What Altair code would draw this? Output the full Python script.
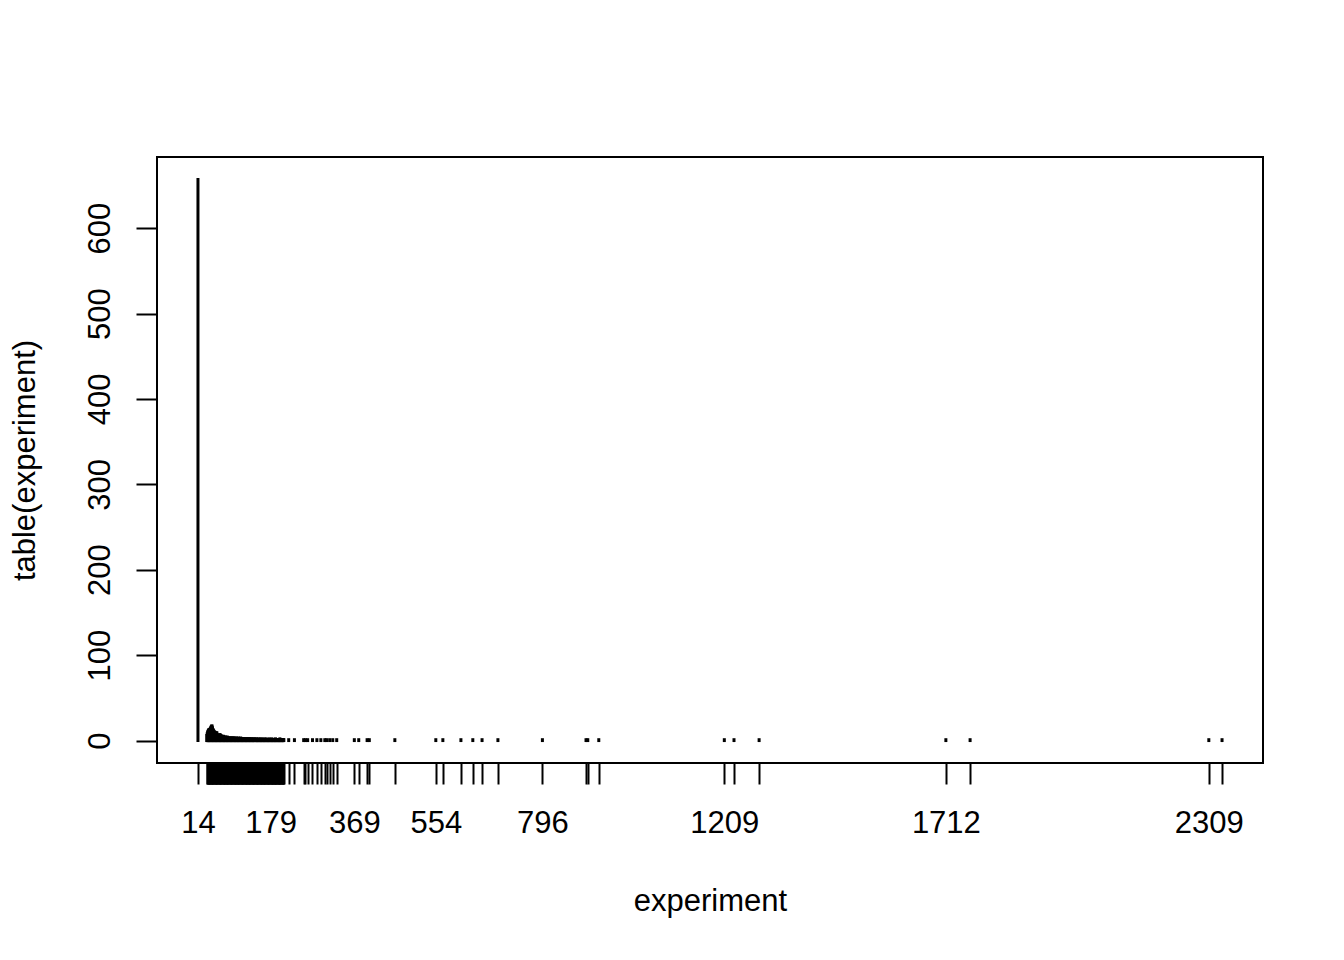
import altair as alt
import pandas as pd

# distinct experiment values (x) and their frequencies (table counts)
values = [14,
          34, 35, 36, 37, 38, 39, 40, 41, 42, 43, 44, 45, 46, 47, 48, 49, 50, 51, 52, 53,
          54, 55, 56, 57, 58, 59, 60, 61, 62, 63, 64, 65, 66, 67, 68, 69, 70, 71, 72, 73,
          74, 75, 76, 77, 78, 79, 80, 81, 82, 83, 84, 85, 86, 87, 88, 89, 90, 91, 92, 93,
          94, 95, 96, 97, 98, 99, 100, 101, 102, 103, 104, 105, 106, 107, 108, 109, 110, 111, 112, 113,
          114, 115, 116, 117, 118, 119, 120, 121, 122, 123, 124, 125, 126, 127, 128, 129, 130, 131, 132, 133,
          134, 135, 136, 137, 138, 139, 140, 141, 142, 143, 144, 145, 146, 147, 148, 149, 150, 151, 152, 153,
          154, 155, 156, 157, 158, 159, 160, 161, 162, 163, 164, 165, 166, 167, 168, 169, 170, 171, 172, 173,
          174, 175, 176, 177, 178, 179, 180, 181, 182, 183, 184, 185, 186, 187, 188, 189, 190, 191, 192, 193,
          194, 195, 196, 197, 198, 199, 200, 201, 202, 203, 204, 205, 206, 207, 208, 209,
          220, 233, 254, 258, 263, 274, 284, 293, 302, 306, 313, 320, 329,
          369, 379, 398, 403, 461, 554, 570, 611, 638, 659, 695, 796,
          895, 899, 924, 1209, 1231, 1288, 1712, 1767, 2309, 2339]

counts = [657,
          6, 8, 10, 11, 12, 13, 12, 13, 14, 15, 16, 17, 17, 15, 13, 12, 11, 10, 10, 9,
          9, 8, 9, 9, 7, 6, 6, 5, 6, 6, 7, 6, 6, 5, 4, 5, 4, 4, 5, 4,
          3, 4, 4, 3, 4, 3, 3, 4, 3, 3, 2, 3, 3, 2, 3, 3, 2, 3, 2, 3,
          3, 2, 3, 2, 2, 3, 2, 2, 3, 2, 2, 2, 3, 2, 2, 2, 2, 3, 2, 2,
          2, 2, 1, 2, 2, 2, 1, 2, 2, 1, 2, 2, 1, 2, 1, 2, 2, 1, 2, 1,
          2, 1, 2, 1, 1, 2, 1, 2, 1, 1, 2, 1, 1, 2, 1, 1, 1, 2, 1, 1,
          1, 2, 1, 1, 1, 2, 1, 1, 1, 1, 2, 1, 1, 1, 1, 2, 1, 1, 1, 1,
          1, 1, 2, 1, 1, 1, 1, 1, 2, 1, 1, 1, 1, 1, 1, 1, 2, 1, 1, 1,
          1, 1, 1, 1, 1, 1, 2, 1, 1, 1, 1, 1, 1, 1, 1, 1,
          1, 1, 1, 1, 1, 1, 1, 1, 1, 1, 1, 1, 1,
          1, 1, 1, 1, 1, 1, 1, 1, 1, 1, 1, 1,
          1, 1, 1, 1, 1, 1, 1, 1, 1, 1]

labeled_x = [14, 179, 369, 554, 796, 1209, 1712, 2309]
y_ticks = [0, 100, 200, 300, 400, 500, 600]

df = pd.DataFrame({"experiment": values, "n": counts})

FONT = "Liberation Sans"
label_expr = "indexof([" + ",".join(str(v) for v in labeled_x) + "], datum.value) >= 0 ? datum.label : ''"

x_axis = alt.Axis(values=values, format="d", labelExpr=label_expr, title="experiment",
                  grid=False, domain=False, tickColor="black", tickWidth=2, tickSize=21,
                  labelFont=FONT, labelFontSize=31, labelColor="black", labelPadding=24,
                  labelOverlap=False, labelFlush=False, labelBound=False,
                  titleFont=FONT, titleFontSize=31, titleFontWeight="normal", titleColor="black",
                  titlePadding=48)

y_axis = alt.Axis(values=y_ticks, format="d", title="table(experiment)",
                  grid=False, domain=False, tickColor="black", tickWidth=2, tickSize=21,
                  labelFont=FONT, labelFontSize=31, labelColor="black", labelPadding=20,
                  labelAngle=270, labelAlign="center", labelBaseline="bottom",
                  labelOverlap=False, labelFlush=False, labelBound=False,
                  titleFont=FONT, titleFontSize=31, titleFontWeight="normal", titleColor="black",
                  titlePadding=43)

chart = alt.Chart(df).mark_rule(color="black", strokeWidth=3, strokeCap="square").encode(
    x=alt.X("experiment:Q", scale=alt.Scale(domain=[-79, 2432], nice=False, zero=False), axis=x_axis),
    y=alt.Y("n:Q", scale=alt.Scale(domain=[-26.28, 683.28], nice=False, zero=False), axis=y_axis),
    y2=alt.datum(0),
).properties(
    width=1106, height=606,
    autosize=alt.AutoSizeParams(type="none"),
    padding={"left": 149, "top": 149, "right": 73, "bottom": 183},
    background="white",
).configure_view(stroke="black", strokeWidth=2)

chart.save("out.html", embed_options={"renderer": "svg", "actions": False})
